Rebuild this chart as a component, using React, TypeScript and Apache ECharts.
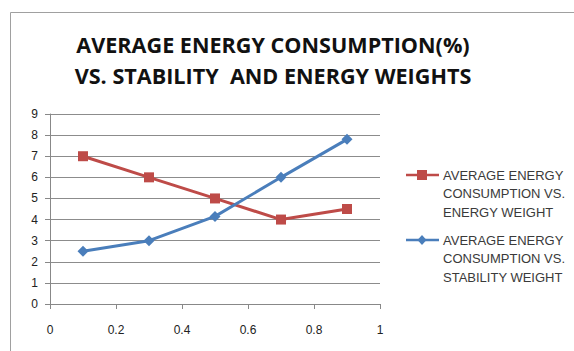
import React, { useEffect, useRef } from "react";
import * as echarts from "echarts";

const weights = [0.1, 0.3, 0.5, 0.7, 0.9];
const energySeries = [7, 6, 5, 4, 4.5];
const stabilitySeries = [2.5, 3, 4.15, 6, 7.8];
const seriesNames = [
  "AVERAGE ENERGY\nCONSUMPTION VS.\nENERGY WEIGHT",
  "AVERAGE ENERGY\nCONSUMPTION VS.\nSTABILITY WEIGHT",
];
const seriesColors = ["#BE4B48", "#4A7EBB"];
const seriesSymbols = ["rect", "diamond"];
const titleText = "AVERAGE ENERGY CONSUMPTION(%)\nVS. STABILITY  AND ENERGY WEIGHTS";

export default function App() {
  const ref = useRef<HTMLDivElement>(null);
  useEffect(() => {
    if (!ref.current) return;
    const chart = echarts.init(ref.current, null, { renderer: "svg" });
    const font = "Liberation Sans";
    const legendTops = [175, 240];
    const legendGraphics: any[] = [];
    seriesNames.forEach((name, i) => {
      const y = legendTops[i];
      legendGraphics.push({
        type: "line",
        shape: { x1: 406, y1: y, x2: 439, y2: y },
        style: { stroke: seriesColors[i], lineWidth: 2.5 },
        silent: true,
      });
      if (seriesSymbols[i] === "rect") {
        legendGraphics.push({
          type: "rect",
          shape: { x: 417, y: y - 5, width: 10, height: 10 },
          style: { fill: seriesColors[i] },
          silent: true,
        });
      } else {
        legendGraphics.push({
          type: "polygon",
          shape: { points: [[422, y - 5], [426.5, y], [422, y + 5], [417.5, y]] },
          style: { fill: seriesColors[i] },
          silent: true,
        });
      }
      legendGraphics.push({
        type: "text",
        x: 443,
        y: y - 9.25,
        style: {
          text: name,
          fontFamily: font,
          fontSize: 13,
          lineHeight: 18.5,
          fill: "#3a3a3a",
          textVerticalAlign: "top",
        },
        silent: true,
      });
    });
    chart.setOption({
      animation: false,
      backgroundColor: "#ffffff",
      title: {
        text: titleText,
        left: 268,
        textAlign: "center",
        top: 24,
        textStyle: {
          fontFamily: "Open Sans",
          fontWeight: "bold",
          fontSize: 21.6,
          lineHeight: 31,
          color: "#111",
        },
      },
      graphic: [
        {
          type: "rect",
          shape: { x: 10.5, y: 12.5, width: 600, height: 400 },
          style: { fill: "none", stroke: "#a0a0a0", lineWidth: 1 },
          silent: true,
        },
        ...legendGraphics,
      ],
      grid: { left: 50, right: 194, top: 114, bottom: 47 },
      xAxis: {
        type: "value",
        min: 0,
        max: 1,
        interval: 0.2,
        axisLine: { show: true, lineStyle: { color: "#888", width: 1 } },
        axisTick: { show: true, length: 5, lineStyle: { color: "#888" } },
        axisLabel: {
          fontFamily: font,
          fontSize: 12,
          color: "#222",
          margin: 20,
          formatter: (v: number) => String(Math.round(v * 10) / 10),
        },
        splitLine: { show: false },
      },
      yAxis: {
        type: "value",
        min: 0,
        max: 9,
        interval: 1,
        axisLine: { show: true, lineStyle: { color: "#888", width: 1 } },
        axisTick: { show: true, length: 5, lineStyle: { color: "#888" } },
        axisLabel: { fontFamily: font, fontSize: 12, color: "#222", margin: 12 },
        splitLine: { show: true, lineStyle: { color: "#8c8c8c", width: 1 } },
      },
      series: [
        {
          name: seriesNames[0],
          type: "line",
          data: weights.map((w, i) => [w, energySeries[i]]),
          symbol: seriesSymbols[0],
          symbolSize: 10,
          itemStyle: { color: seriesColors[0] },
          lineStyle: { color: seriesColors[0], width: 3 },
        },
        {
          name: seriesNames[1],
          type: "line",
          data: weights.map((w, i) => [w, stabilitySeries[i]]),
          symbol: seriesSymbols[1],
          symbolSize: 11,
          itemStyle: { color: seriesColors[1] },
          lineStyle: { color: seriesColors[1], width: 3 },
        },
      ],
    });
    return () => chart.dispose();
  }, []);
  return (
    <div
      ref={ref}
      style={{ position: "fixed", left: 0, top: 0, width: 574, height: 351 }}
    />
  );
}
